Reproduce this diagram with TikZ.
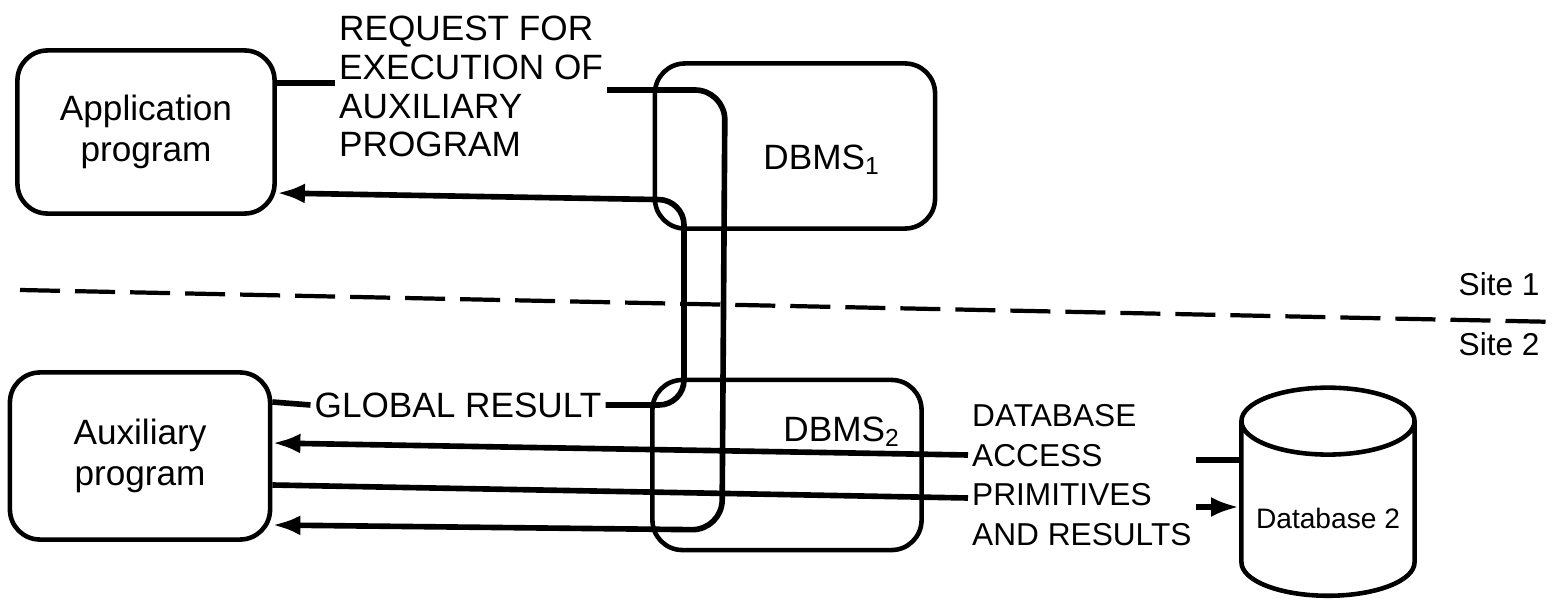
\documentclass[tikz,border=0pt]{standalone}
\usepackage{fontspec}
\setmainfont{Liberation Sans}
\usetikzlibrary{arrows.meta,shapes.geometric}
\tikzset{
  prog/.style={draw,line width=1.3pt,rounded corners=0.3cm,align=center,font=\fontsize{10}{11.5}\selectfont},
  conn/.style={line width=1.6pt},
  tip/.style={-{Latex[length=2.8mm,width=2mm]}},
  lbl/.style={inner sep=1pt,align=left,font=\fontsize{10}{11}\selectfont},
}
\begin{document}
\begin{tikzpicture}[x=0.01cm,y=-0.01cm]
  \useasboundingbox (0,0) rectangle (1559,603);
  \node[prog,minimum width=2.57cm,minimum height=1.63cm] (app) at (146,132) {Application\\program};
  \node[prog,minimum width=2.8cm,minimum height=1.65cm] (dbms1) at (795,146) {};
  \node[lbl] (d1) at (822,160) {DBMS\textsubscript{1}};
  \node[prog,minimum width=2.6cm,minimum height=1.67cm] (aux) at (140,456) {Auxiliary\\program};
  \node[prog,minimum width=2.69cm,minimum height=1.7cm] (dbms2) at (787,465) {};
  \node[lbl] (d2) at (842,432) {DBMS\textsubscript{2}};
  \node[draw,cylinder,shape border rotate=90,aspect=0.4,minimum width=1.73cm,minimum height=2.08cm,line width=1.3pt,font=\fontsize{8}{9}\selectfont] (db) at (1328,518) {Database 2};
  \draw[line width=1.2pt,dash pattern=on 0.4cm off 0.15cm] (20,290) -- (1559,322);
  \node[anchor=east,font=\fontsize{9}{10}\selectfont] (s1) at (1552,284) {Site 1};
  \node[anchor=east,font=\fontsize{9}{10}\selectfont] (s2) at (1552,344) {Site 2};
  \node[lbl,anchor=north west] (req) at (335,12) {REQUEST FOR\\EXECUTION OF\\AUXILIARY\\PROGRAM};
  \node[lbl] (glob) at (458,405) {GLOBAL RESULT};
  \node[lbl,anchor=north west,font=\fontsize{9}{11.3}\selectfont] (dbt) at (968,400) {DATABASE\\ACCESS\\PRIMITIVES\\AND RESULTS};
  \draw[conn] (app.east |- 0,83) -- (req.west |- 0,83);
  \draw[conn,tip,rounded corners=0.3cm] (req.east |- 0,90) -- (725,90) -- (722,530) -- (aux.east |- 0,525);
  \draw[conn] (aux.east |- 0,402) -- (glob.west);
  \draw[conn,tip,rounded corners=0.25cm] (glob.east) -- (684,405) -- (684,200) -- (app.east |- 0,193);
  \draw[conn] (db.west |- 0,460) -- (dbt.east |- 0,460);
  \draw[conn,tip] (dbt.west |- 0,455) -- (aux.east |- 0,443);
  \draw[conn] (aux.east |- 0,485) -- (dbt.west |- 0,498);
  \draw[conn,tip] (dbt.east |- 0,507) -- (db.west |- 0,507);
\end{tikzpicture}
\end{document}
